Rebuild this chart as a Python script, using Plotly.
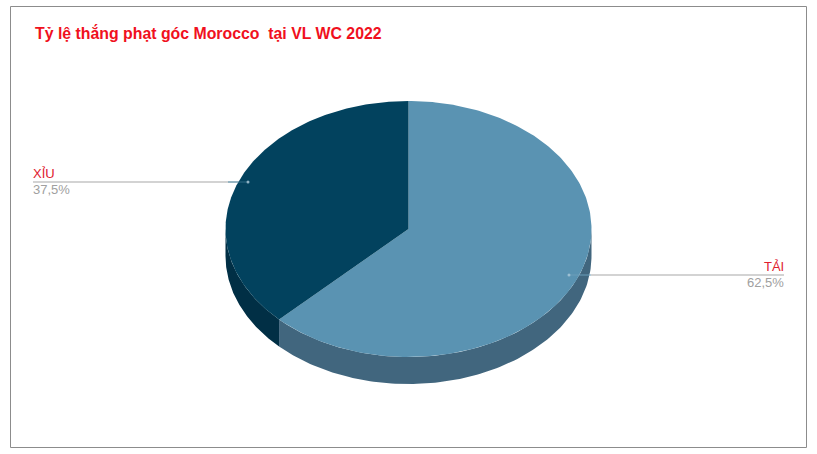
"""Tilted two-slice pie: corner-kick rate, Morocco, WC 2022 qualifiers."""
import numpy as np
import plotly.graph_objects as go

# ── data ──────────────────────────────────────────────────────────────────────
LABELS = ['TẢI', 'XỈU']
SHARES = [62.5, 37.5]
TITLE = 'Tỷ lệ thắng phạt góc Morocco  tại VL WC 2022'

# ── colour palette ────────────────────────────────────────────────────────────
TOP_COLORS = ['#5A93B2', '#02425E']
SIDE_COLORS = ['#41667E', '#012F45']
LABEL_RED = '#E0202E'
VALUE_GREY = '#A0A0A0'
LEADER_GREY = '#C4C4C4'
TITLE_RED = '#F01020'
FONT = 'Liberation Sans'

# ── pie geometry (axes run in page pixels) ───────────────────────────────────
CX, CY = 408.5, 229
RX, RY = 183, 128
DEPTH = 27


def rim(start, end, n=120):
    """Ellipse points clockwise from 12 o'clock, angles in degrees."""
    t = np.radians(np.linspace(start, end, n))
    return CX + RX * np.sin(t), CY - RY * np.cos(t)


fig = go.Figure()

# slice angles come from the shares
edges = np.concatenate([[0], np.cumsum(SHARES) / sum(SHARES) * 360])

# side walls first, only the part facing the viewer (90-270 deg)
for i in range(len(SHARES)):
    a0, a1 = max(edges[i], 90), min(edges[i + 1], 270)
    x, y = rim(a0, a1)
    fig.add_trace(go.Scatter(
        x=np.concatenate([x, x[::-1]]),
        y=np.concatenate([y, y[::-1] + DEPTH]),
        mode='lines', fill='toself', fillcolor=SIDE_COLORS[i],
        line=dict(width=0), hoverinfo='skip', showlegend=False,
    ))

# top faces
for i in range(len(SHARES)):
    x, y = rim(edges[i], edges[i + 1], 240)
    fig.add_trace(go.Scatter(
        x=np.concatenate([[CX], x, [CX]]),
        y=np.concatenate([[CY], y, [CY]]),
        mode='lines', fill='toself', fillcolor=TOP_COLORS[i],
        line=dict(width=0), hoverinfo='skip', showlegend=False,
    ))

# leader lines: dot on the slice, faint across the pie, solid outside it
LEADERS = {0: ([569, 591, 784], 275), 1: ([248, 228, 33], 182)}
ON_PIE_COLORS = ['#6A9DB9', '#2F6A85']
DOT_COLORS = ['#9CC0D3', '#8FB2C4']
for i, (xs, y) in LEADERS.items():
    fig.add_trace(go.Scatter(
        x=xs[:2], y=[y, y], mode='lines',
        line=dict(color=ON_PIE_COLORS[i], width=1),
        hoverinfo='skip', showlegend=False,
    ))
    fig.add_trace(go.Scatter(
        x=xs[1:], y=[y, y], mode='lines',
        line=dict(color=LEADER_GREY, width=1.5),
        hoverinfo='skip', showlegend=False,
    ))
    fig.add_trace(go.Scatter(
        x=xs[:1], y=[y], mode='markers',
        marker=dict(color=DOT_COLORS[i], size=3),
        hoverinfo='skip', showlegend=False,
    ))

# labels above the leader, values below it
for i, (xs, y) in LEADERS.items():
    anchor = 'right' if xs[-1] > xs[0] else 'left'
    fig.add_annotation(
        x=xs[-1], y=y, yshift=1, xanchor=anchor, yanchor='bottom', showarrow=False,
        text=LABELS[i], font=dict(family=FONT, size=13, color=LABEL_RED),
        borderpad=0, borderwidth=0,
    )
    fig.add_annotation(
        x=xs[-1], y=y, yshift=0, xanchor=anchor, yanchor='top', showarrow=False,
        text=f'{SHARES[i]:.1f}%'.replace('.', ','),
        font=dict(family=FONT, size=13, color=VALUE_GREY),
        borderpad=0, borderwidth=0,
    )

fig.add_annotation(
    x=35, y=33, xanchor='left', yanchor='middle', showarrow=False,
    text=f'<b>{TITLE}</b>', font=dict(family=FONT, size=15.85, color=TITLE_RED),
    borderpad=0, borderwidth=0,
)

# chart frame
fig.add_shape(type='rect', x0=10.5, x1=806.5, y0=6.5, y1=447.5,
              line=dict(color='#8C8C8C', width=1), layer='below')

fig.update_layout(
    width=817, height=454,
    margin=dict(l=0, r=0, t=0, b=0),
    paper_bgcolor='white', plot_bgcolor='white',
    xaxis=dict(range=[0, 817], visible=False, fixedrange=True),
    yaxis=dict(range=[454, 0], visible=False, fixedrange=True),
    showlegend=False,
)

fig.write_html('out.html', config={'displayModeBar': False},
               post_script="document.body.style.margin='0';")
